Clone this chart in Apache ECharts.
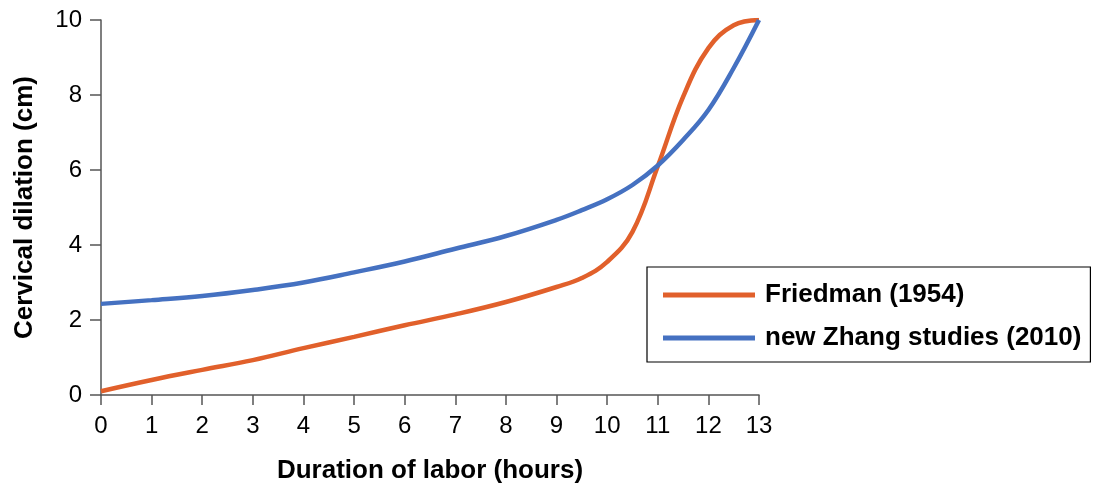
<!DOCTYPE html>
<html>
<head>
<meta charset="utf-8">
<script src="https://cdn.jsdelivr.net/npm/echarts@6/dist/echarts.min.js"></script>
<style>html,body{margin:0;padding:0;background:#fff;}#c{width:1099px;height:489px;}</style>
</head>
<body>
<div id="c"></div>
<script>
const seriesNames = ['Friedman (1954)', 'new Zhang studies (2010)'];
const friedmanHours = [0, 1, 2, 3, 4, 5, 6, 7, 8, 9, 9.5, 10, 10.5, 11, 11.5, 12, 12.5, 13];
const friedmanDilation = [0.1, 0.4, 0.67, 0.93, 1.25, 1.55, 1.86, 2.15, 2.48, 2.88, 3.12, 3.55, 4.35, 6.1, 7.95, 9.25, 9.86, 10.0];
const zhangHours = [0, 1, 2, 3, 4, 5, 6, 7, 8, 9, 9.5, 10, 10.5, 11, 11.5, 12, 12.5, 13];
const zhangDilation = [2.43, 2.53, 2.64, 2.8, 3.0, 3.27, 3.56, 3.9, 4.24, 4.67, 4.93, 5.22, 5.6, 6.12, 6.8, 7.6, 8.72, 10.0];
const xTicks = { min: 0, max: 13, interval: 1 };
const yTicks = { min: 0, max: 10, interval: 2 };

const pair = (xs, ys) => xs.map((x, i) => [x, ys[i]]);
const font = 'Liberation Sans, Arial, Helvetica, sans-serif';
const chart = echarts.init(document.getElementById('c'), null, { renderer: 'canvas' });
chart.setOption({
  animation: false,
  backgroundColor: '#fff',
  grid: { left: 101, right: 340, top: 20, bottom: 94, containLabel: false },
  xAxis: {
    type: 'value', min: xTicks.min, max: xTicks.max, interval: xTicks.interval,
    name: 'Duration of labor (hours)', nameLocation: 'middle', nameGap: 63,
    nameTextStyle: { fontFamily: font, fontSize: 26, fontWeight: 'bold', color: '#000' },
    axisLine: { lineStyle: { color: '#555', width: 1.5 } },
    axisTick: { show: true, length: 10, lineStyle: { color: '#555', width: 1.5 } },
    axisLabel: { fontFamily: font, fontSize: 24, color: '#000', margin: 19 },
    splitLine: { show: false }
  },
  yAxis: {
    type: 'value', min: yTicks.min, max: yTicks.max, interval: yTicks.interval,
    name: 'Cervical dilation (cm)', nameLocation: 'middle', nameGap: 63, nameRotate: 90,
    nameTextStyle: { fontFamily: font, fontSize: 26, fontWeight: 'bold', color: '#000' },
    axisLine: { show: true, lineStyle: { color: '#555', width: 1.5 } },
    axisTick: { show: true, length: 11, lineStyle: { color: '#555', width: 1.5 } },
    axisLabel: { fontFamily: font, fontSize: 24, color: '#000', margin: 19 },
    splitLine: { show: false }
  },
  legend: {
    orient: 'vertical', left: 647, top: 267,
    padding: [13, 9, 9, 16], itemGap: 13,
    itemWidth: 92, itemHeight: 5, icon: 'rect', itemStyle: { borderWidth: 0 },
    borderColor: '#000', borderWidth: 1.2, backgroundColor: '#fff',
    textStyle: { fontFamily: font, fontSize: 26, fontWeight: 'bold', color: '#000', lineHeight: 30, padding: [0, 0, 0, 5] },
    data: seriesNames
  },
  series: [
    { name: seriesNames[0], type: 'line', data: pair(friedmanHours, friedmanDilation), smooth: 0.4,
      showSymbol: false, symbol: 'none', color: '#E1602B', lineStyle: { width: 4.5, color: '#E1602B' } },
    { name: seriesNames[1], type: 'line', data: pair(zhangHours, zhangDilation), smooth: 0.4,
      showSymbol: false, symbol: 'none', color: '#4571C1', lineStyle: { width: 4.5, color: '#4571C1' } }
  ]
});
</script>
</body>
</html>
